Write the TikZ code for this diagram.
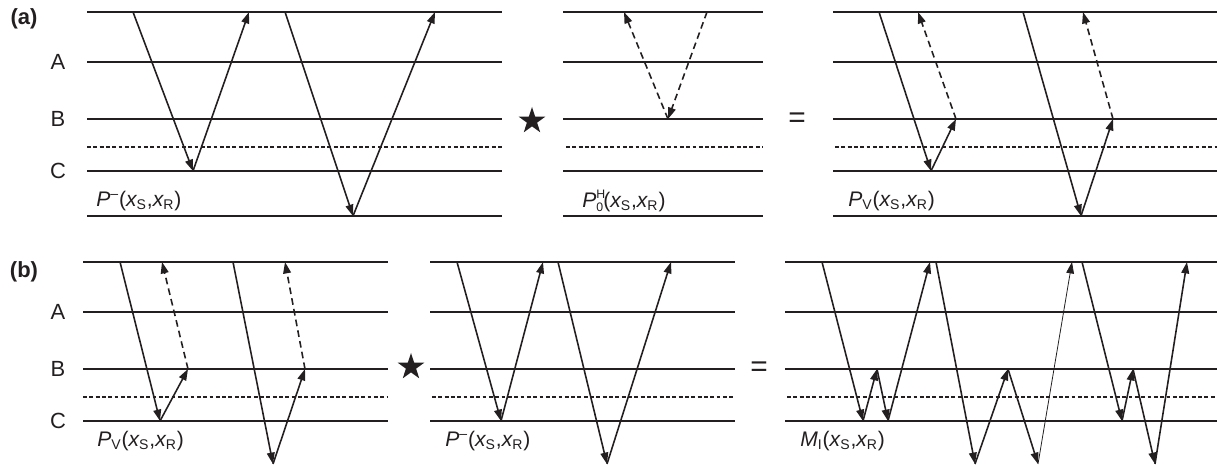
\documentclass[tikz,border=0pt]{standalone}
\usepackage{fontspec}
\setmainfont{Liberation Sans}
\usetikzlibrary{arrows.meta, shapes.geometric}
\definecolor{ink}{HTML}{231F20}
\newcommand{\xsr}{({\itshape x}\textsubscript{S},{\itshape x}\textsubscript{R})}

\begin{document}
\begin{tikzpicture}[
  x=0.02cm, y=-0.02cm,
  >={Triangle[length=6.5pt, width=4.4pt]},
  layer/.style={line width=0.85pt, ink},
  interface/.style={line width=1pt, ink, dash pattern=on 2.2pt off 1.4pt},
  ray/.style={->, line width=0.9pt, ink},
  thinray/.style={->, line width=0.45pt, ink},
  ghost/.style={->, line width=0.9pt, ink, dash pattern=on 3.8pt off 2.4pt},
  layerlbl/.style={font=\fontsize{12.5}{14}\selectfont, text=ink},
  panellbl/.style={font=\fontsize{12.5}{14}\selectfont\bfseries, text=ink},
  eqlbl/.style={font=\fontsize{12}{14}\selectfont, text=ink, anchor=west, inner sep=0pt},
  opsym/.style={font=\fontsize{17}{17}\selectfont, text=ink},
  starsym/.style={star, star points=5, star point ratio=2.6, fill=ink,
    inner sep=0pt, minimum size=0.56cm},
]

\useasboundingbox (0,0) rectangle (1218,465);

% =============================================
% (a) layers
% =============================================
\foreach \xa/\xb/\xd in {87/502/87, 563/763/566, 833/1217/835} {
  \foreach \y in {12,62,119,171,216}
    \draw[layer] (\xa,\y) -- (\xb,\y);
  \draw[interface] (\xd,147) -- (\xb,147);
}

\node[panellbl] (pa) at (24,19) {(a)};
\node[layerlbl] (aA) at (58,62) {A};
\node[layerlbl] (aB) at (58,119) {B};
\node[layerlbl] (aC) at (58,171) {C};

% P^- : primaries
\draw[ray] (133,12) -- (193,171);
\draw[ray] (193,171) -- (249,12);
\draw[ray] (285,12) -- (353,216);
\draw[ray] (353,216) -- (435,12);
\node[eqlbl] (pma) at (96,201) {{\itshape P}\textsuperscript{–}\xsr};

\node[starsym] (sa) at (532,121) {};

% P_0^H : dashed
\draw[ghost] (707,12) -- (668,119);
\draw[ghost] (668,119) -- (624,12);
\node[eqlbl] (p0a) at (582,201)
  {{\itshape P}\makebox[0pt][l]{\raisebox{0.8ex}{\scriptsize H}}%
   \raisebox{-0.4ex}{\scriptsize 0}\xsr};

\node[opsym] (ea) at (797,120) {=};

% P_V
\draw[ray] (879,12) -- (931,171);
\draw[ray] (931,171) -- (956,119);
\draw[ghost] (956,119) -- (918,12);
\draw[ray] (1023,12) -- (1081,216);
\draw[ray] (1081,216) -- (1113,119);
\draw[ghost] (1113,119) -- (1083,12);
\node[eqlbl] (pva) at (848,201) {{\itshape P}\textsubscript{V}\xsr};

% =============================================
% (b) layers
% =============================================
\foreach \xa/\xb/\xd in {83/388/83, 430/735/432, 785/1217/787} {
  \foreach \y in {262,312,369,421}
    \draw[layer] (\xa,\y) -- (\xb,\y);
  \draw[interface] (\xd,397) -- (\xb,397);
}

\node[panellbl] (pb) at (24,272) {(b)};
\node[layerlbl] (bA) at (58,312) {A};
\node[layerlbl] (bB) at (58,369) {B};
\node[layerlbl] (bC) at (58,421) {C};

% P_V
\draw[ray] (120,262) -- (160,421);
\draw[ray] (160,421) -- (188,369);
\draw[ghost] (188,369) -- (162,262);
\draw[ray] (233,262) -- (273,464);
\draw[ray] (273,464) -- (305,369);
\draw[ghost] (305,369) -- (285,262);
\node[eqlbl] (pvb) at (97,441) {{\itshape P}\textsubscript{V}\xsr};

\node[starsym] (sb) at (411,367) {};

% P^-
\draw[ray] (457,262) -- (501,421);
\draw[ray] (501,421) -- (543,262);
\draw[ray] (558,262) -- (607,464);
\draw[ray] (607,464) -- (671,262);
\node[eqlbl] (pmb) at (445,441) {{\itshape P}\textsuperscript{–}\xsr};

\node[opsym] (eb) at (759,369) {=};

% M_I : internal multiples
\draw[ray] (822,262) -- (863,421);
\draw[ray] (863,421) -- (877,369);
\draw[ray] (877,369) -- (888,421);
\draw[ray] (888,421) -- (930,262);
\draw[ray] (936,262) -- (975,464);
\draw[ray] (975,464) -- (1008,369);
\draw[ray] (1008,369) -- (1038,464);
\draw[thinray] (1038,464) -- (1072,262);
\draw[ray] (1082,262) -- (1122,421);
\draw[ray] (1122,421) -- (1133,369);
\draw[ray] (1133,369) -- (1155,464);
\draw[ray] (1155,464) -- (1187,262);
\node[eqlbl] (mib) at (800,441) {{\itshape M}\textsubscript{I}\xsr};

\end{tikzpicture}
\end{document}
